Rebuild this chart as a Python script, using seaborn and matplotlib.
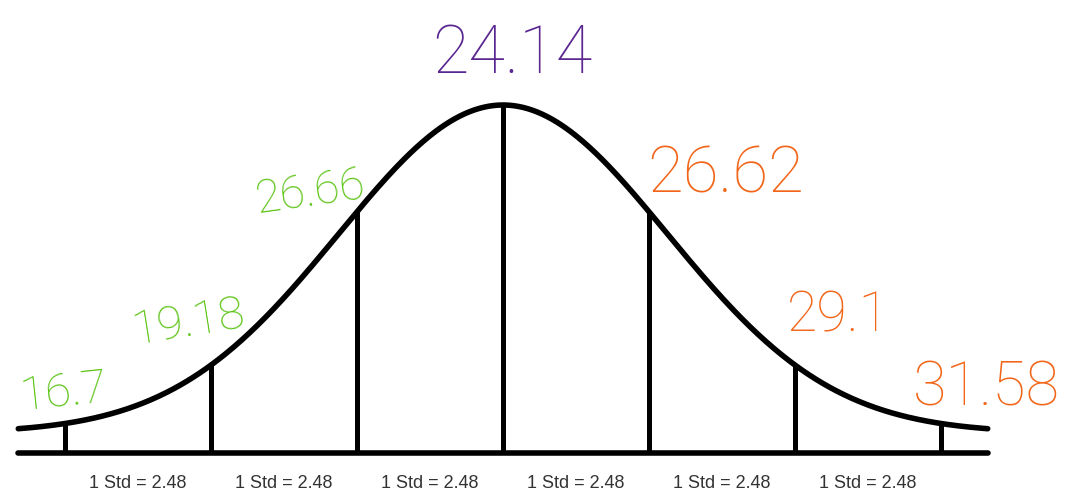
import numpy as np
import pandas as pd
import matplotlib
matplotlib.use("Agg")
import matplotlib.pyplot as plt
import seaborn as sns

# Distribution summary
mean = 24.14
std = 2.48
std_steps = [-3, -2, -1, 0, 1, 2, 3]

# Hand-written values beside each std line
value_labels = ["16.7", "19.18", "26.66", "24.14", "26.62", "29.1", "31.58"]
label_colors = ["#5cc416", "#5cc416", "#5cc416", "#5a2790",
                "#f2661a", "#f2661a", "#f2661a"]
segment_label = "1 Std = 2.48"

# Bell shape: relative height with a small floor so the tails stay lifted
curve_floor = 0.0575
curve_width = 1.127      # in std units
curve_reach = 3.32       # curve and baseline span +/- this many std

# Label placement (offset points from the top of each std line), size and tilt
label_offsets = [(-1, 22), (-16, 31), (-34, 14), (7, 36), (55, 27), (31, 35), (33, 25)]
label_sizes = [34, 34, 33, 48, 47, 40, 44]
label_rotations = [6, 9, 8, 0, 0, 0, 0]


def bell(x):
    z = (np.asarray(x) - mean) / std
    return curve_floor + (1 - curve_floor) * np.exp(-z ** 2 / (2 * curve_width ** 2))


sns.set_theme(style="white")
plt.rcParams["font.family"] = ["Roboto", "DejaVu Sans"]

fig = plt.figure(figsize=(10.65, 4.93), dpi=100)
ax = fig.add_axes([0, 0, 1, 1])

xs = np.linspace(mean - curve_reach * std, mean + curve_reach * std, 600)
curve = pd.DataFrame({"value": xs, "height": bell(xs)})
sns.lineplot(data=curve, x="value", y="height", ax=ax, color="black",
             linewidth=4.0, solid_capstyle="round", sort=False)

# baseline
ax.plot([xs[0], xs[-1]], [0, 0], color="black", linewidth=4.0,
        solid_capstyle="round")

# std lines up to the curve
line_x = np.array([mean + k * std for k in std_steps])
ax.vlines(line_x, 0, bell(line_x), color="black", linewidth=3.6)

# segment captions
for left, right in zip(line_x[:-1], line_x[1:]):
    ax.text((left + right) / 2, -0.089, segment_label, ha="center", va="center",
            fontsize=13, color="#333333", family="Liberation Sans")

# hand-written values
for x, text, col, off, size, rot in zip(line_x, value_labels, label_colors,
                                         label_offsets, label_sizes, label_rotations):
    ax.annotate(text, xy=(x, bell(x)), xytext=off, textcoords="offset points",
                ha="center", va="center", fontsize=size, color=col,
                fontweight="light", rotation=rot)

px_per_std = 146
ax.set_xlim(mean - 503 / px_per_std * std, mean + 562 / px_per_std * std)
ax.set_ylim(-40 / 348, 453 / 348)
ax.set_axis_off()

fig.savefig("out.png", dpi=100, facecolor="white")
